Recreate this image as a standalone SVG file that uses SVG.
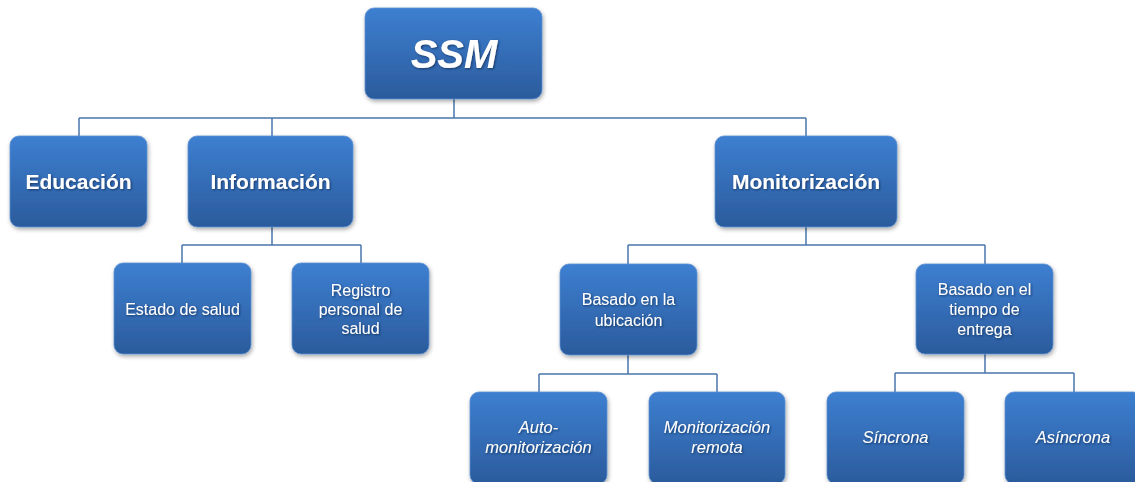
<svg xmlns="http://www.w3.org/2000/svg" width="1135" height="482" viewBox="0 0 1135 482">
<defs>
<linearGradient id="g" x1="0" y1="0" x2="0" y2="1">
<stop offset="0" stop-color="#3d7fd1"/>
<stop offset="1" stop-color="#2b5b9c"/>
</linearGradient>
<filter id="sh" x="-10%" y="-10%" width="125%" height="130%">
<feDropShadow dx="1" dy="2" stdDeviation="2" flood-color="#000" flood-opacity="0.35"/>
</filter>
<filter id="ts" x="-10%" y="-20%" width="120%" height="150%">
<feDropShadow dx="1" dy="1" stdDeviation="0.8" flood-color="#0a2347" flood-opacity="0.7"/>
</filter>
</defs>
<style>
.box{fill:url(#g);stroke:#5b8fd0;stroke-width:0.8;filter:url(#sh)}
.c{fill:none;stroke:#4a76ab;stroke-width:1.5}
text{fill:#fff;font-family:"Liberation Sans",Arial,sans-serif;text-anchor:middle;filter:url(#ts)}
.big{font-size:21px;font-weight:bold}
.sm{font-size:16px}
.it{font-style:italic;font-size:16.5px}
</style>
<g id="connectors">
<path class="c" d="M454 99V118M79 118H806M79 118V136M272 118V136M806 118V136"/>
<path class="c" d="M272 227V245M182 245H361M182 245V263M361 245V263"/>
<path class="c" d="M806 227V245M628 245H985M628 245V264M985 245V264"/>
<path class="c" d="M628 355V374M539 374H717M539 374V392M717 374V392"/>
<path class="c" d="M985 354V373M895 373H1074M895 373V392M1074 373V392"/>
</g>
<g id="ssm"><rect class="box" x="365" y="8" width="177" height="91" rx="9"/><text x="454" y="68" style="font-size:40px;font-weight:bold;font-style:italic">SSM</text></g>
<g id="educacion"><rect class="box" x="10" y="136" width="137" height="91" rx="9"/><text class="big" x="78.5" y="189">Educación</text></g>
<g id="informacion"><rect class="box" x="188" y="136" width="165" height="91" rx="9"/><text class="big" x="270.5" y="189">Información</text></g>
<g id="monitorizacion"><rect class="box" x="715" y="136" width="182" height="91" rx="9"/><text class="big" x="806" y="189">Monitorización</text></g>
<g id="estado"><rect class="box" x="114" y="263" width="137" height="91" rx="9"/><text class="sm" x="182.5" y="315">Estado de salud</text></g>
<g id="registro"><rect class="box" x="292" y="263" width="137" height="91" rx="9"/><text class="sm" x="360.5" y="296">Registro</text><text class="sm" x="360.5" y="315">personal de</text><text class="sm" x="360.5" y="334">salud</text></g>
<g id="ubicacion"><rect class="box" x="560" y="264" width="137" height="91" rx="9"/><text class="sm" x="628.5" y="305">Basado en la</text><text class="sm" x="628.5" y="326">ubicación</text></g>
<g id="tiempo"><rect class="box" x="916" y="264" width="137" height="90" rx="9"/><text class="sm" x="984.5" y="295">Basado en el</text><text class="sm" x="984.5" y="315">tiempo de</text><text class="sm" x="984.5" y="335">entrega</text></g>
<g id="auto"><rect class="box" x="470" y="392" width="137" height="92" rx="9"/><text class="sm it" x="538.5" y="433">Auto-</text><text class="sm it" x="538.5" y="453">monitorización</text></g>
<g id="remota"><rect class="box" x="649" y="392" width="136" height="92" rx="9"/><text class="sm it" x="717" y="433">Monitorización</text><text class="sm it" x="717" y="453">remota</text></g>
<g id="sincrona"><rect class="box" x="827" y="392" width="137" height="92" rx="9"/><text class="sm it" x="895.5" y="443">Síncrona</text></g>
<g id="asincrona"><rect class="box" x="1005" y="392" width="137" height="92" rx="9"/><text class="sm it" x="1073" y="443">Asíncrona</text></g>
</svg>
